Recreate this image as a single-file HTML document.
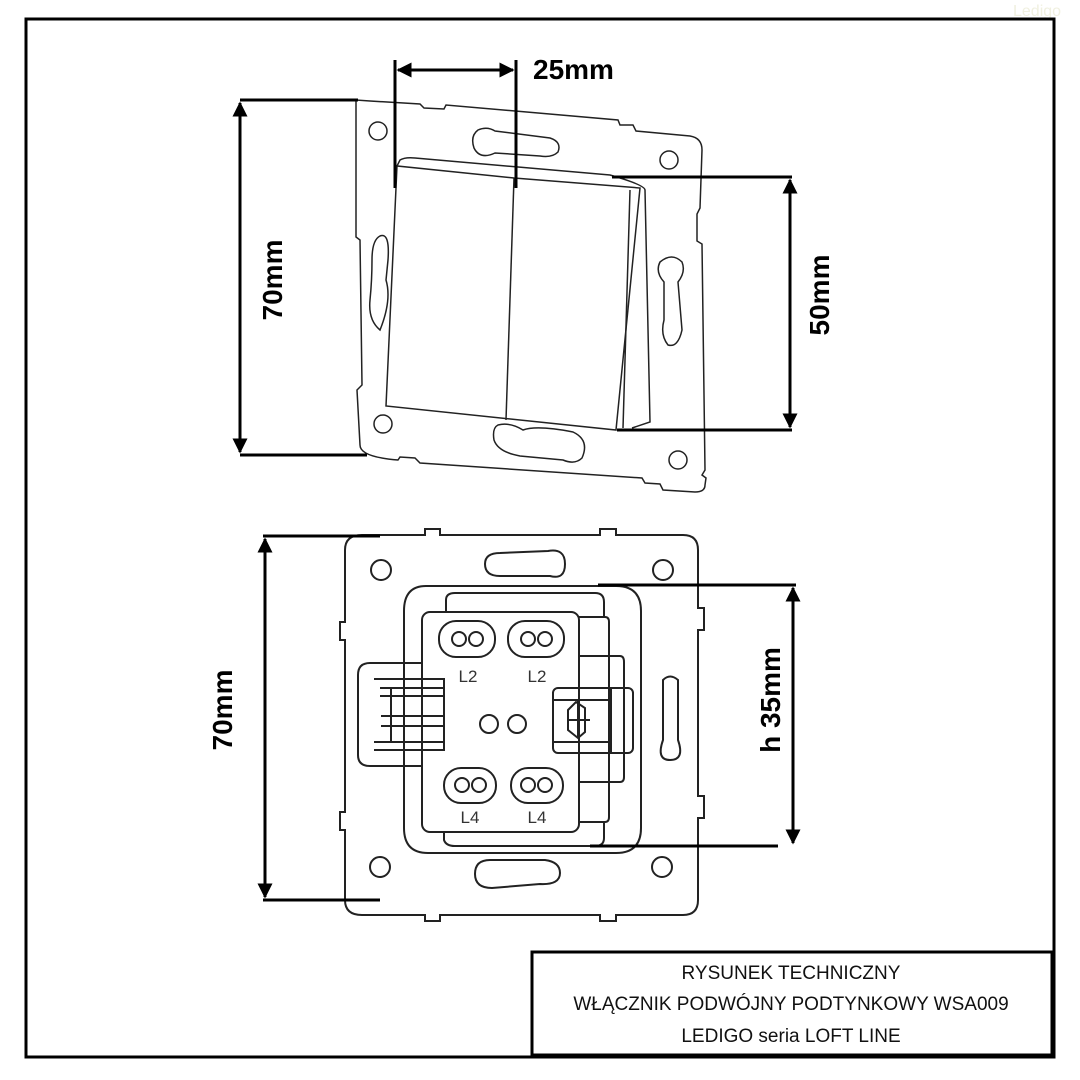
<!DOCTYPE html>
<html><head><meta charset="utf-8"><style>
html,body{margin:0;padding:0;background:#fff;}
svg{display:block;}
.t{font-family:"Liberation Sans",sans-serif;}
</style></head><body>
<svg width="1080" height="1080" viewBox="0 0 1080 1080" xmlns="http://www.w3.org/2000/svg">
<defs>
<marker id="a" viewBox="0 0 10 10" refX="9" refY="5" markerWidth="5" markerHeight="5" orient="auto-start-reverse"><path d="M0,0 L10,5 L0,10 z" fill="#000"/></marker>
</defs>
<text x="1013" y="16" class="t" font-size="16" fill="#f0f0e0">Ledigo</text>
<!-- border -->
<rect x="26" y="19" width="1028" height="1038" fill="none" stroke="#000" stroke-width="3"/>
<rect x="532" y="952" width="520" height="103" fill="#fff" stroke="#000" stroke-width="3"/>
<g class="t" font-size="19" text-anchor="middle" fill="#111">
<text x="791" y="979">RYSUNEK TECHNICZNY</text>
<text x="791" y="1010">WŁĄCZNIK PODWÓJNY PODTYNKOWY WSA009</text>
<text x="791" y="1042">LEDIGO seria LOFT LINE</text>
</g>

<!-- TOP SWITCH -->
<g fill="none" stroke="#222" stroke-width="1.5">
<path d="M370,101 L420,104 L424,108 L444,109 L446,105 L618,120 L620,125 L633,125 L636,131 L690,136 Q702,138 702,150 L700,208 L697,214 L697,241 L702,244 L705,470 L702,475 L706,478 L705,485 Q705,492 695,492 L663,490 L660,484 L645,483 L642,478 L420,463 L415,458 L400,457 L398,460 Q360,457 360,445 L357,390 L362,385 L360,240 L356,237 L356,100 Z"/>
<circle cx="378" cy="131" r="9"/><circle cx="669" cy="160" r="9"/>
<circle cx="383" cy="424" r="9"/><circle cx="678" cy="460" r="9"/>
<path d="M478,130 Q487,126 495,131 L550,138 Q562,142 558,152 Q552,158 540,156 L495,153 Q480,160 474,148 Q470,136 478,130 Z"/>
<path d="M498,425 Q510,422 523,430 Q537,425 573,432 Q590,440 582,458 Q575,465 563,460 L520,456 Q498,452 494,440 Q492,428 498,425 Z"/>
<path d="M380,236 Q390,232 388,260 L386,280 Q392,300 380,330 Q368,320 370,300 Q372,280 372,260 Q372,240 380,236 Z"/>
<path d="M660,262 Q672,252 682,262 Q686,272 678,282 L682,330 Q678,348 668,345 Q660,335 664,320 L664,282 Q655,272 660,262 Z"/>
<path d="M397,166 L400,160 Q405,157 415,158 L610,175 Q645,185 645,190 L650,422 L632,428"/>
<path d="M397,166 L386,406 L616,430 L640,188 L514,178 Z"/>
<path d="M514,178 L506,420"/>
<path d="M630,190 L623,428"/>
</g>
<!-- top dims -->
<g stroke="#000" stroke-width="3" fill="none">
<line x1="240" y1="100" x2="358" y2="100"/>
<line x1="240" y1="455" x2="367" y2="455"/>
<line x1="240" y1="103" x2="240" y2="452" marker-start="url(#a)" marker-end="url(#a)"/>
<line x1="395" y1="60" x2="395" y2="188"/>
<line x1="516" y1="60" x2="516" y2="188"/>
<line x1="398" y1="70" x2="513" y2="70" marker-start="url(#a)" marker-end="url(#a)"/>
<line x1="612" y1="177" x2="792" y2="177"/>
<line x1="617" y1="430" x2="792" y2="430"/>
<line x1="790" y1="180" x2="790" y2="427" marker-start="url(#a)" marker-end="url(#a)"/>
</g>
<g class="t" font-weight="bold" font-size="28" fill="#000">
<text x="533" y="79">25mm</text>
<text transform="translate(282,280) rotate(-90)" text-anchor="middle">70mm</text>
<text transform="translate(829,295) rotate(-90)" text-anchor="middle">50mm</text>
</g>

<!-- BOTTOM SWITCH -->
<g fill="none" stroke="#222" stroke-width="2">
<path d="M362,535 L425,535 L425,529 L440,529 L440,535 L600,535 L600,529 L616,529 L616,535 L683,535 Q698,535 698,550 L698,608 L704,608 L704,630 L698,630 L698,796 L704,796 L704,818 L698,818 L698,900 Q698,915 683,915 L616,915 L616,921 L600,921 L600,915 L440,915 L440,921 L425,921 L425,915 L362,915 Q345,915 345,900 L345,830 L340,830 L340,812 L345,812 L345,640 L340,640 L340,622 L345,622 L345,550 Q345,535 362,535 Z"/>
<circle cx="381" cy="570" r="10"/><circle cx="663" cy="570" r="10"/>
<circle cx="380" cy="867" r="10"/><circle cx="662" cy="867" r="10"/>
<path d="M500,553 L548,551 Q565,548 565,564 Q565,580 550,576 L500,576 Q485,576 485,564 Q485,553 500,553 Z"/>
<path d="M490,860 L545,860 Q560,862 560,873 Q560,885 540,884 L492,888 Q475,888 475,874 Q475,860 490,860 Z"/>
<path d="M663,680 Q670,673 678,680 L678,740 Q685,760 670,760 Q656,760 663,740 Z"/>
<path d="M426,586 L616,586 Q641,586 641,611 L641,828 Q641,853 616,853 L428,853 Q404,853 404,828 L404,611 Q404,586 426,586 Z"/>
<path d="M446,612 L446,600 Q446,593 455,593 L595,593 Q604,593 604,602 L604,617"/>
<path d="M444,832 L444,840 Q446,846 455,846 L595,846 Q604,846 604,838 L604,822"/>
<rect x="422" y="612" width="157" height="220" rx="8"/>
<path d="M579,617 L605,617 Q609,617 609,622 L609,817 Q609,822 605,822 L579,822"/>
<path d="M579,656 L620,656 Q624,656 624,662 L624,777 Q624,782 620,782 L579,782"/>
<path d="M423,663 L370,663 Q358,663 358,675 L358,755 Q358,766 370,766 L423,766"/>
<path d="M374,679 L444,679 L444,750 L374,750 M380,688 L444,688 M380,696 L444,696 M381,716 L444,716 M381,726 L444,726 M374,742 L444,742 M391,688 L391,742"/>
<rect x="553" y="688" width="80" height="65" rx="5"/>
<line x1="553" y1="700" x2="611" y2="700"/><line x1="553" y1="742" x2="611" y2="742"/>
<line x1="611" y1="688" x2="611" y2="753"/>
<path d="M568,710 L576,702 L585,708 L585,732 L578,738 L568,730 Z M567,720 L590,720 M578,700 L578,738"/>
<rect x="439" y="621" width="56" height="36" rx="17"/><rect x="508" y="621" width="56" height="36" rx="17"/>
<rect x="444" y="768" width="52" height="35" rx="17"/><rect x="511" y="768" width="52" height="35" rx="17"/>
<circle cx="459" cy="639" r="7"/><circle cx="476" cy="639" r="7"/>
<circle cx="528" cy="639" r="7"/><circle cx="545" cy="639" r="7"/>
<circle cx="462" cy="785" r="7"/><circle cx="479" cy="785" r="7"/>
<circle cx="528" cy="785" r="7"/><circle cx="545" cy="785" r="7"/>
<circle cx="489" cy="724" r="9"/><circle cx="517" cy="724" r="9"/>
</g>
<g class="t" font-size="17" fill="#333" text-anchor="middle">
<text x="468" y="682">L2</text><text x="537" y="682">L2</text>
<text x="470" y="823">L4</text><text x="537" y="823">L4</text>
</g>
<!-- bottom dims -->
<g stroke="#000" stroke-width="3" fill="none">
<line x1="263" y1="536" x2="380" y2="536"/>
<line x1="263" y1="900" x2="380" y2="900"/>
<line x1="265" y1="539" x2="265" y2="897" marker-start="url(#a)" marker-end="url(#a)"/>
<line x1="598" y1="585" x2="796" y2="585"/>
<line x1="590" y1="846" x2="778" y2="846"/>
<line x1="793" y1="588" x2="793" y2="843" marker-start="url(#a)" marker-end="url(#a)"/>
</g>
<g class="t" font-weight="bold" font-size="28" fill="#000">
<text transform="translate(232,710) rotate(-90)" text-anchor="middle">70mm</text>
<text transform="translate(780,700) rotate(-90)" text-anchor="middle">h 35mm</text>
</g>
</svg>
</body></html>
